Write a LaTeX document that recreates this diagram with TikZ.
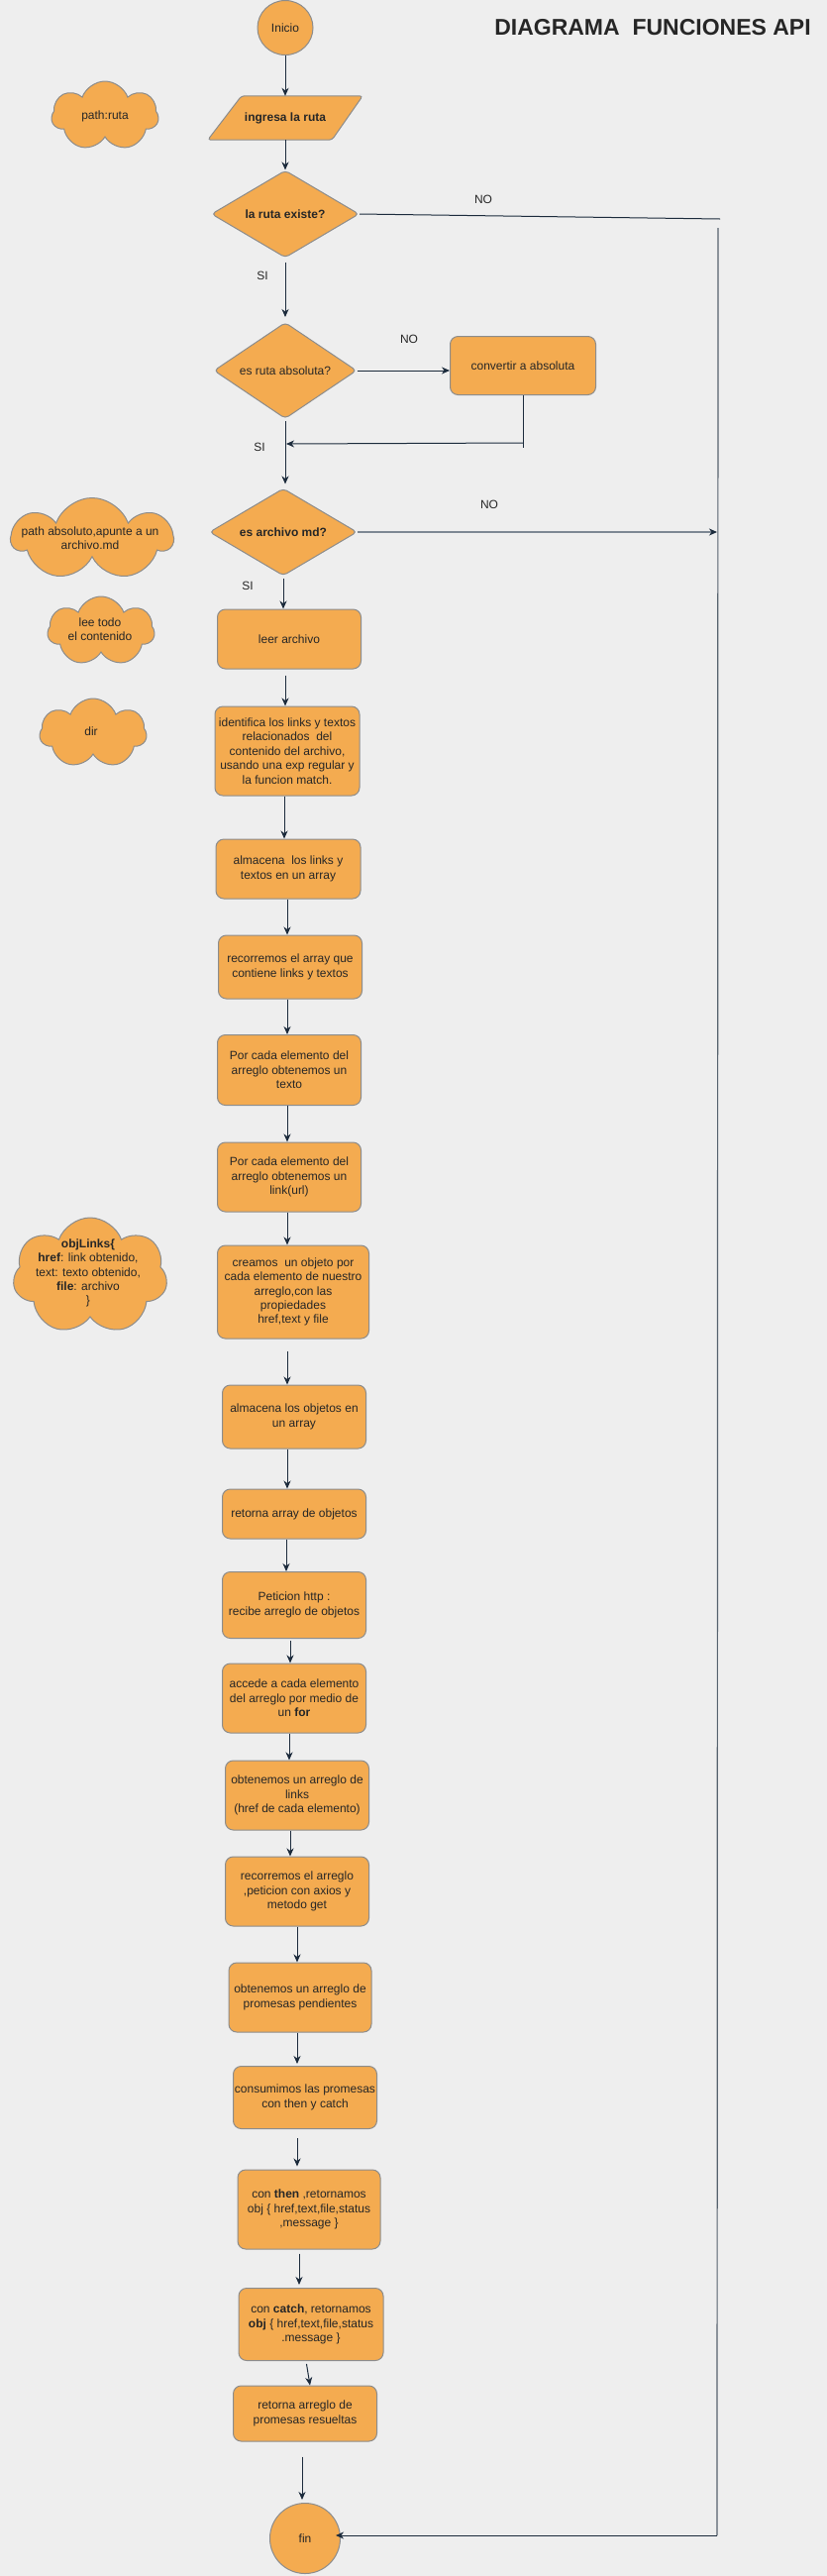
\documentclass[tikz,border=0pt]{standalone}
\usepackage{fontspec}
\setmainfont{Liberation Sans}
\usetikzlibrary{shapes.geometric,shapes.symbols,arrows.meta}
\pgfdeclarelayer{background}
\pgfsetlayers{background,main}
\definecolor{bgc}{HTML}{EEEEEE}
\definecolor{fillo}{HTML}{F4AB50}
\definecolor{strk}{HTML}{8C8C8C}
\definecolor{navy}{HTML}{1C2B3C}
\definecolor{grayline}{HTML}{7D8893}
\definecolor{vline}{HTML}{56626E}
\definecolor{txt}{HTML}{262626}
\tikzset{
  base/.style={fill=fillo, draw=strk, line width=1pt, text=txt, align=center,
    font=\fontsize{12}{14.4}\selectfont, inner sep=0pt},
  procbox/.style={base, rectangle, rounded corners=8pt},
  decision/.style={base, diamond, aspect=1.7, rounded corners=4pt, minimum width=149pt, minimum height=88pt},
  term/.style={base, ellipse},
  cloudy/.style={base, cloud, cloud puffs=7, cloud puff arc=140, cloud ignores aspect},
  cloudtext/.style={text=txt, align=center, font=\fontsize{12}{14.4}\selectfont, inner sep=0pt},
  lbl/.style={text=txt, font=\fontsize{12}{14.4}\selectfont, inner sep=0pt},
  conn/.style={draw=navy, line width=1pt, -{Stealth[length=8pt,width=7pt,inset=2.5pt]}},
  plain/.style={draw=navy, line width=1pt},
}
\begin{document}
\begin{tikzpicture}[x=1pt,y=-1pt]
\useasboundingbox (0,0) rectangle (835,2600);
\begin{pgfonlayer}{background}
\fill[bgc] (0,0) rectangle (835,2600);
\end{pgfonlayer}

% title
\node[text=txt, font=\bfseries\fontsize{23}{27}\selectfont, inner sep=0pt] (title) at (659,28) {DIAGRAMA\ \ FUNCIONES API};

% main flow
\node[term, minimum width=56pt, minimum height=55pt] (inicio) at (288,28) {Inicio};
\node[text=txt, inner sep=0pt, minimum width=156pt, minimum height=44pt, font=\bfseries\fontsize{12}{14.4}\selectfont] (ingresa) at (288,119) {ingresa la ruta};
\begin{pgfonlayer}{background}
\draw[fill=fillo, draw=strk, line width=1pt, rounded corners=3pt]
  (ingresa.south west) -- ([xshift=-31pt]ingresa.south east) -- (ingresa.north east)
  -- ([xshift=34pt]ingresa.north west) -- cycle;
\end{pgfonlayer}
\node[decision, font=\bfseries\fontsize{12}{14.4}\selectfont] (d1) at (288,216) {la ruta existe?};
\node[decision, minimum width=144pt, minimum height=97pt] (d2) at (288,374) {es ruta absoluta?};
\node[procbox, minimum width=147pt, minimum height=59pt] (conv) at (528,369) {convertir a absoluta};
\node[decision, font=\bfseries\fontsize{12}{14.4}\selectfont] (d3) at (286,537) {es archivo md?};
\node[procbox, minimum width=145pt, minimum height=60pt] (leer) at (292,645) {leer archivo};
\node[procbox, minimum width=146pt, minimum height=90pt] (ident) at (290,758) {identifica los links y textos\\relacionados\ \ del\\contenido del archivo,\\usando una exp regular y\\la funcion match.};
\node[procbox, minimum width=146pt, minimum height=60pt] (alm1) at (291,877) {almacena\ \ los links y\\textos en un array};
\node[procbox, minimum width=145pt, minimum height=64pt] (rec1) at (293,976) {recorremos el array que\\contiene links y textos};
\node[procbox, minimum width=145pt, minimum height=71pt] (por1) at (292,1080) {Por cada elemento del\\arreglo obtenemos un\\texto};
\node[procbox, minimum width=145pt, minimum height=70pt] (por2) at (292,1188) {Por cada elemento del\\arreglo obtenemos un\\link(url)};
\node[procbox, minimum width=153pt, minimum height=94pt] (crea) at (296,1304) {creamos\ \ un objeto por\\cada elemento de nuestro\\arreglo,con las\\propiedades\\href,text y file};
\node[procbox, minimum width=145pt, minimum height=64pt] (alm2) at (297,1430) {almacena los objetos en\\un array};
\node[procbox, minimum width=145pt, minimum height=50pt] (ret) at (297,1528) {retorna array de objetos};
\node[procbox, minimum width=145pt, minimum height=67pt] (pet) at (297,1620) {Peticion http :\\recibe arreglo de objetos};
\node[procbox, minimum width=145pt, minimum height=70pt] (acc) at (297,1714) {accede a cada elemento\\del arreglo por medio de\\un \textbf{for}};
\node[procbox, minimum width=145pt, minimum height=70pt] (obt1) at (300,1812) {obtenemos un arreglo de\\links\\(href de cada elemento)};
\node[procbox, minimum width=145pt, minimum height=70pt] (rec2) at (300,1909) {recorremos el arreglo\\,peticion con axios y\\metodo get};
\node[procbox, minimum width=144pt, minimum height=70pt] (obt2) at (303,2016) {obtenemos un arreglo de\\promesas pendientes};
\node[procbox, minimum width=145pt, minimum height=63pt] (cons) at (308,2117) {consumimos las promesas\\con then y catch};
\node[procbox, minimum width=144pt, minimum height=80pt] (then) at (312,2230) {con \textbf{then} ,retornamos\\obj \{ href,text,file,status\\,message \}};
\node[procbox, minimum width=146pt, minimum height=73pt] (catch) at (314,2346) {con \textbf{catch}, retornamos\\\textbf{obj} \{ href,text,file,status\\.message \}};
\node[procbox, minimum width=145pt, minimum height=56pt] (reta) at (308,2436) {retorna arreglo de\\promesas resueltas};
\node[term, minimum width=71pt, minimum height=71pt] (fin) at (308,2562) {fin};

% clouds
\node[cloudy, minimum width=108pt, minimum height=70pt] (c1) at (106,117) {};
\node[cloudtext] (c1t) at (c1.center) {path:ruta};
\node[cloudy, minimum width=162pt, minimum height=83pt] (c2) at (93,544) {};
\node[cloudtext] (c2t) at (91,543) {path absoluto,apunte a un\\archivo.md};
\node[cloudy, minimum width=108pt, minimum height=70pt] (c3) at (102,637) {};
\node[cloudtext] (c3t) at (101,635) {lee todo\\el contenido};
\node[cloudy, minimum width=108pt, minimum height=70pt] (c4) at (94,740) {};
\node[cloudtext] (c4t) at (92,738) {dir};
\node[cloudy, minimum width=156pt, minimum height=118pt] (c5) at (91,1288) {};
\node[cloudtext] (c5t) at (89,1285) {\textbf{objLinks\{}\\\textbf{href}: link obtenido,\\text: texto obtenido,\\\textbf{file}: archivo\\\}};

% labels
\node[lbl] (no1) at (488,201) {NO};
\node[lbl] (si1) at (265,278) {SI};
\node[lbl] (no2) at (413,342) {NO};
\node[lbl] (si2) at (262,451) {SI};
\node[lbl] (no3) at (494,509) {NO};
\node[lbl] (si3) at (250,591) {SI};

% helper coordinates
\coordinate (n1end) at (727,221);
\coordinate (vtop) at (725,230);
\coordinate (vbot) at (724,2559);
\coordinate (vmid) at (724,537);
\coordinate (cdown) at (528,452);
\coordinate (cturn) at (528,447);
\coordinate (cback) at (289,448);

% connectors
\draw[conn] (inicio) -- (inicio.south |- ingresa.north);
\draw[conn] (ingresa) -- (ingresa.south |- d1.north);
\draw[plain] (d1.east) -- (n1end);
\draw[draw=vline, line width=1.2pt] (vtop) -- (vbot);
\draw[conn, shorten <=4pt, shorten >=5pt] (d1.south) -- (d1.south |- d2.north);
\draw[conn] (d2.east) -- (d2.east -| conv.west);
\draw[draw=navy, line width=0.8pt] (conv.south) -- (cdown);
\draw[conn] (cturn) -- (cback);
\draw[conn, shorten <=2pt, shorten >=4pt] (d2.south) -- (d2.south |- d3.north);
\draw[draw=grayline, line width=1.8pt, -{Stealth[length=8pt,width=7pt,inset=2.5pt,color=navy]}] (d3.east) -- (vmid);
\draw[conn, shorten <=2pt] (d3.south) -- (d3.south |- leer.north);
\draw[conn, shorten <=6pt] ([xshift=-4pt]leer.south) -- ([xshift=-4pt]leer.south |- ident.north);
\draw[conn] ([xshift=-3pt]ident.south) -- ([xshift=-3pt]ident.south |- alm1.north);
\draw[conn] ([xshift=-1pt]alm1.south) -- ([xshift=-1pt]alm1.south |- rec1.north);
\draw[conn] ([xshift=-3pt]rec1.south) -- ([xshift=-3pt]rec1.south |- por1.north);
\draw[conn] ([xshift=-2pt]por1.south) -- ([xshift=-2pt]por1.south |- por2.north);
\draw[conn] ([xshift=-2pt]por2.south) -- ([xshift=-2pt]por2.south |- crea.north);
\draw[conn, shorten <=12pt] ([xshift=-6pt]crea.south) -- ([xshift=-6pt]crea.south |- alm2.north);
\draw[conn] ([xshift=-7pt]alm2.south) -- ([xshift=-7pt]alm2.south |- ret.north);
\draw[conn] ([xshift=-8pt]ret.south) -- ([xshift=-8pt]ret.south |- pet.north);
\draw[conn, shorten <=2pt] ([xshift=-4pt]pet.south) -- ([xshift=-4pt]pet.south |- acc.north);
\draw[conn] ([xshift=-5pt]acc.south) -- ([xshift=-5pt]acc.south |- obt1.north);
\draw[conn] ([xshift=-7pt]obt1.south) -- ([xshift=-7pt]obt1.south |- rec2.north);
\draw[conn] (rec2.south) -- (rec2.south |- obt2.north);
\draw[conn, shorten >=2pt] ([xshift=-3pt]obt2.south) -- ([xshift=-3pt]obt2.south |- cons.north);
\draw[conn, shorten <=9pt, shorten >=3pt] ([xshift=-8pt]cons.south) -- ([xshift=-8pt]cons.south |- then.north);
\draw[conn, shorten <=4pt, shorten >=3pt] ([xshift=-10pt]then.south) -- ([xshift=-10pt]then.south |- catch.north);
\draw[conn, shorten <=3pt] ([xshift=-5pt]catch.south) -- ([xshift=-1pt]catch.south |- reta.north);
\draw[conn, shorten <=15pt, shorten >=3pt] ([xshift=-3pt]reta.south) -- ([xshift=-3pt]reta.south |- fin.north);
\draw[conn, shorten >=-5pt] (vbot) -- (vbot -| fin.east);
\end{tikzpicture}
\end{document}
